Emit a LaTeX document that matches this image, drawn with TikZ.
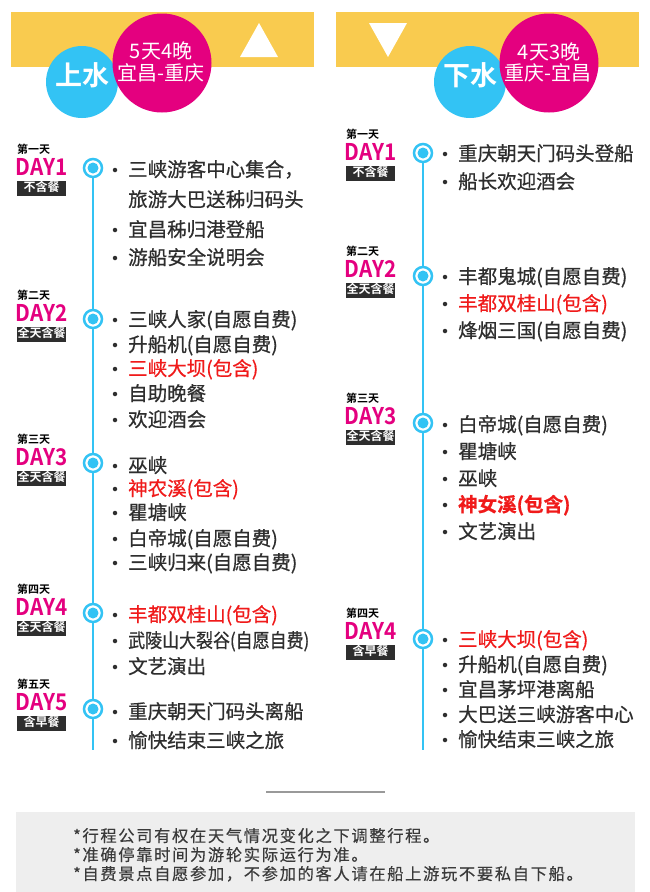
\documentclass[tikz,border=0pt]{standalone}
\usepackage{fontspec}
\usepackage{graphicx}
\setmainfont{Noto Sans CJK SC}[BoldFont={Noto Sans CJK SC Bold}]
\newfontfamily\notefont{Noto Sans CJK SC}[LetterSpace=10,FakeBold=0.3]
\newfontfamily\itmfont{Noto Sans CJK SC}[FakeBold=0.6,BoldFont={Noto Sans CJK SC Bold}]
\definecolor{barcol}{HTML}{F9CB4F}
\definecolor{sky}{HTML}{33C3F4}
\definecolor{mag}{HTML}{E4007F}
\definecolor{txt}{HTML}{2E2E2E}
\definecolor{redt}{HTML}{F01A1A}
\definecolor{boxd}{HTML}{2E2E2E}
\definecolor{notebg}{HTML}{EEEEEE}
\definecolor{notetxt}{HTML}{3A3A3A}
\definecolor{sepline}{HTML}{999999}
\tikzset{
  itm/.style={anchor=west, inner sep=0pt, yshift=-3pt, text height=0.86em, text depth=0.14em, font=\itmfont\fontsize{19.5}{20}\selectfont, text=txt},
  hl/.style={itm, text=redt},
  dayno/.style={anchor=base west, inner sep=0pt, font=\bfseries\fontsize{23}{23}\selectfont, text=mag},
  daysmall/.style={anchor=west, inner sep=0pt, text height=.88em, text depth=.12em, font=\bfseries\fontsize{11}{11}\selectfont, text=black},
  meal/.style={anchor=west, fill=boxd, text=white, minimum width=49pt, minimum height=15pt, inner sep=0pt, text height=.88em, text depth=.12em, font=\bfseries\fontsize{12}{12}\selectfont},
  bulletdot/.style={circle, fill=txt, minimum size=4.5pt, inner sep=0pt},
  markring/.style={circle, draw=sky, line width=2.5pt, fill=white, minimum size=18pt, inner sep=0pt},
  markdot/.style={circle, fill=sky, minimum size=11pt, inner sep=0pt},
  tline/.style={draw=sky, line width=2.8pt},
  bigc/.style={circle, inner sep=0pt},
  ctext/.style={inner sep=0pt, text=white, text height=.88em, text depth=.12em},
  notes/.style={anchor=west, inner sep=0pt, text=notetxt, text height=.88em, text depth=.12em, font=\notefont\fontsize{16.3}{16}\selectfont},
}
% #1 name, #2 bullet x, #3 y, #4 style, #5 text
\newcommand\itemrow[5]{%
  \node[bulletdot] (#1b) at (#2,#3) {};
  \node[#4] (#1) at ([xshift=13pt]#1b.center) {#5};}
% #1 name, #2 x, #3 baseline, #4 small, #5 DAY, #6 meal
\newcommand\dayblock[6]{%
  \node[daysmall] (#1s) at (#2,#3-25) {#4};
  \node[dayno] (#1d) at (#2-1.5,#3) {\scalebox{0.9}[1]{#5}};
  \node[meal] (#1m) at (#2,#3+13) {#6};}
% #1 name, #2 x, #3 y
\newcommand\marker[3]{%
  \node[markring] (#1r) at (#2,#3) {};
  \node[markdot] (#1) at (#2,#3) {};}
\begin{document}
\begin{tikzpicture}[x=1pt,y=-1pt]
\useasboundingbox (0,0) rectangle (650,892);
\fill[white] (0,0) rectangle (650,892);
% ---------- headers ----------
\fill[fill=barcol] (11,12) rectangle (314,67);
\fill[fill=barcol] (336,12) rectangle (639,67);
\fill[white] (240,57) -- (278,57) -- (259,23) -- cycle;
\fill[white] (369,23) -- (407,23) -- (388,57) -- cycle;
\node[bigc, fill=sky, minimum size=72pt] (upc) at (82,82) {};
\node[bigc, fill=mag, minimum size=99pt] (udc) at (162,63) {};
\node[ctext, font=\bfseries\fontsize{27}{27}\selectfont] (upt) at (82,82) {上水};
\node[ctext, font=\fontsize{20}{20}\selectfont] (ud1) at (161,55) {5天4晚};
\node[ctext, font=\fontsize{20}{20}\selectfont] (ud2) at (161,77) {宜昌-重庆};
\node[bigc, fill=sky, minimum size=72pt] (dnc) at (470,82) {};
\node[bigc, fill=mag, minimum size=99pt] (ddc) at (549,63) {};
\node[ctext, font=\bfseries\fontsize{27}{27}\selectfont] (dnt) at (470,82) {下水};
\node[ctext, font=\fontsize{20}{20}\selectfont] (dd1) at (549,56) {4天3晚};
\node[ctext, font=\fontsize{20}{20}\selectfont] (dd2) at (548,77) {重庆-宜昌};
% ---------- left timeline ----------
\coordinate (Lend) at (93,750);
\coordinate (Ltop) at (93,168);
\draw[tline] (Ltop) -- (Lend);
\marker{L1}{93}{168}
\marker{L2}{93}{319}
\marker{L3}{93}{463}
\marker{L4}{93}{613}
\marker{L5}{93}{709}
\dayblock{LD1}{17}{175}{第一天}{DAY1}{不含餐}
\dayblock{LD2}{17}{321}{第二天}{DAY2}{全天含餐}
\dayblock{LD3}{17}{465}{第三天}{DAY3}{全天含餐}
\dayblock{LD4}{17}{615}{第四天}{DAY4}{全天含餐}
\dayblock{LD5}{17}{710}{第五天}{DAY5}{含早餐}
\itemrow{la1}{115}{170}{itm}{三峡游客中心集合，}
\node[itm] (la1x) at (128,200) {旅游大巴送秭归码头};
\itemrow{la2}{115}{230}{itm}{宜昌秭归港登船}
\itemrow{la3}{115}{258}{itm}{游船安全说明会}
\itemrow{lb1}{115}{320}{itm}{三峡人家(自愿自费)}
\itemrow{lb2}{115}{345}{itm}{升船机(自愿自费)}
\itemrow{lb3}{115}{369}{hl}{三峡大坝(包含)}
\itemrow{lb4}{115}{394}{itm}{自助晚餐}
\itemrow{lb5}{115}{420}{itm}{欢迎酒会}
\itemrow{lc1}{115}{466}{itm}{巫峡}
\itemrow{lc2}{115}{489}{hl}{神农溪(包含)}
\itemrow{lc3}{115}{513}{itm}{瞿塘峡}
\itemrow{lc4}{115}{539}{itm}{白帝城(自愿自费)}
\itemrow{lc5}{115}{563}{itm}{三峡归来(自愿自费)}
\itemrow{ld1}{115}{615}{hl}{丰都双桂山(包含)}
\itemrow{ld2}{115}{641}{itm}{\scalebox{0.87}[1]{武陵山大裂谷(自愿自费)}}
\itemrow{ld3}{115}{667}{itm}{文艺演出}
\itemrow{le1}{115}{712}{itm}{重庆朝天门码头离船}
\itemrow{le2}{115}{741}{itm}{愉快结束三峡之旅}
% ---------- right timeline ----------
\coordinate (Rend) at (423,750);
\coordinate (Rtop) at (423,153);
\draw[tline] (Rtop) -- (Rend);
\marker{R1}{423}{153}
\marker{R2}{423}{276}
\marker{R3}{423}{423}
\marker{R4}{423}{639}
\dayblock{RD1}{346}{160}{第一天}{DAY1}{不含餐}
\dayblock{RD2}{346}{277}{第二天}{DAY2}{全天含餐}
\dayblock{RD3}{346}{424}{第三天}{DAY3}{全天含餐}
\dayblock{RD4}{346}{639}{第四天}{DAY4}{含早餐}
\itemrow{ra1}{445}{154}{itm}{重庆朝天门码头登船}
\itemrow{ra2}{445}{182}{itm}{船长欢迎酒会}
\itemrow{rb1}{445}{277}{itm}{丰都鬼城(自愿自费)}
\itemrow{rb2}{445}{304}{hl}{丰都双桂山(包含)}
\itemrow{rb3}{445}{331}{itm}{烽烟三国(自愿自费)}
\itemrow{rc1}{445}{425}{itm}{白帝城(自愿自费)}
\itemrow{rc2}{445}{452}{itm}{瞿塘峡}
\itemrow{rc3}{445}{479}{itm}{巫峡}
\itemrow{rc4}{445}{505}{hl}{\bfseries 神女溪(包含)}
\itemrow{rc5}{445}{532}{itm}{文艺演出}
\itemrow{rd1}{445}{640}{hl}{三峡大坝(包含)}
\itemrow{rd2}{445}{665}{itm}{升船机(自愿自费)}
\itemrow{rd3}{445}{690}{itm}{宜昌茅坪港离船}
\itemrow{rd4}{445}{715}{itm}{大巴送三峡游客中心}
\itemrow{rd5}{445}{740}{itm}{愉快结束三峡之旅}
% ---------- notes ----------
\draw[sepline, line width=1.5pt] (266,792) -- (385,792);
\fill[notebg] (16,812) rectangle (635,892);
\node[notes] (n1) at (73,838) {*行程公司有权在天气情况变化之下调整行程。};
\node[notes] (n2) at (73,857) {*准确停靠时间为游轮实际运行为准。};
\node[notes] (n3) at (73,876) {*自费景点自愿参加，不参加的客人请在船上游玩不要私自下船。};
\end{tikzpicture}
\end{document}
